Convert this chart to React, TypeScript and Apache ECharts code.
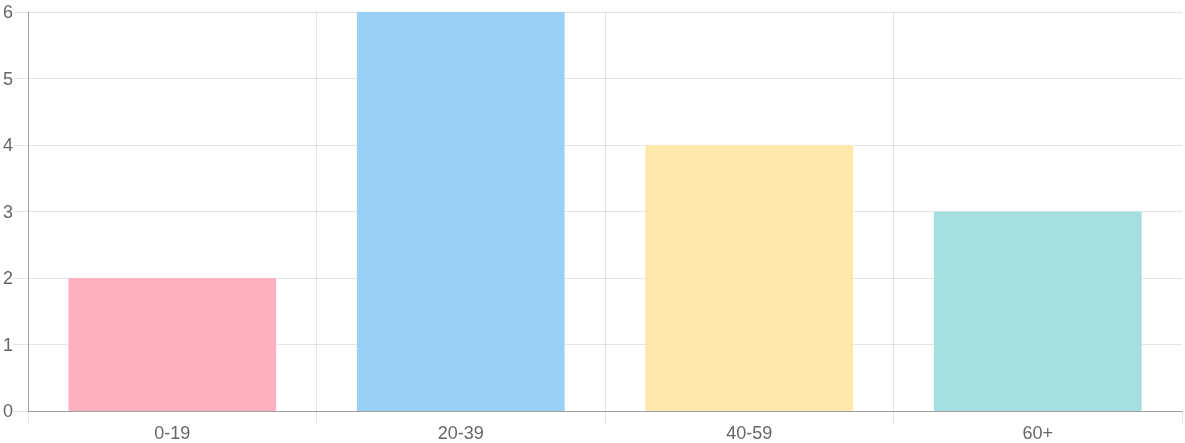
import { useEffect, useRef } from 'react';
import * as echarts from 'echarts';

const categories = ['0-19', '20-39', '40-59', '60+'];
const counts = [2, 6, 4, 3];
const barColors = ['#FFB1C1', '#9AD0F5', '#FFE6AA', '#A5DFDF'];

const GRID_COLOR = 'rgba(0,0,0,0.1)';
const AXIS_COLOR = 'rgba(0,0,0,0.3)';
const TEXT_COLOR = '#666';
const FONT = '"Liberation Sans", Helvetica, Arial, sans-serif';

export default function App() {
  const containerRef = useRef<HTMLDivElement>(null);

  useEffect(() => {
    if (!containerRef.current) return;
    const chart = echarts.init(containerRef.current, undefined, { renderer: 'svg' });

    chart.setOption({
      animation: false,
      grid: { left: 28, right: 3, top: 12, bottom: 32 },
      xAxis: {
        type: 'category',
        data: categories,
        boundaryGap: true,
        axisLine: { lineStyle: { color: AXIS_COLOR, width: 1 } },
        axisTick: { show: true, length: 14, lineStyle: { color: GRID_COLOR } },
        // no grid line on the right edge, as in the reference
        splitLine: { show: true, showMaxLine: false, lineStyle: { color: GRID_COLOR } },
        axisLabel: { color: TEXT_COLOR, fontSize: 18, fontFamily: FONT, margin: 13 },
      },
      yAxis: {
        type: 'value',
        min: 0,
        max: 6,
        interval: 1,
        axisLine: { show: true, lineStyle: { color: AXIS_COLOR, width: 1 } },
        axisTick: { show: true, length: 15, lineStyle: { color: GRID_COLOR } },
        splitLine: { show: true, lineStyle: { color: GRID_COLOR } },
        axisLabel: { color: TEXT_COLOR, fontSize: 18, fontFamily: FONT, margin: 15 },
      },
      series: [
        {
          type: 'bar',
          barWidth: '72%',
          data: counts.map((v, i) => ({ value: v, itemStyle: { color: barColors[i] } })),
        },
      ],
    });

    return () => chart.dispose();
  }, []);

  return (
    <div
      ref={containerRef}
      style={{ position: 'fixed', left: 0, top: 0, width: 1185, height: 443 }}
    />
  );
}
